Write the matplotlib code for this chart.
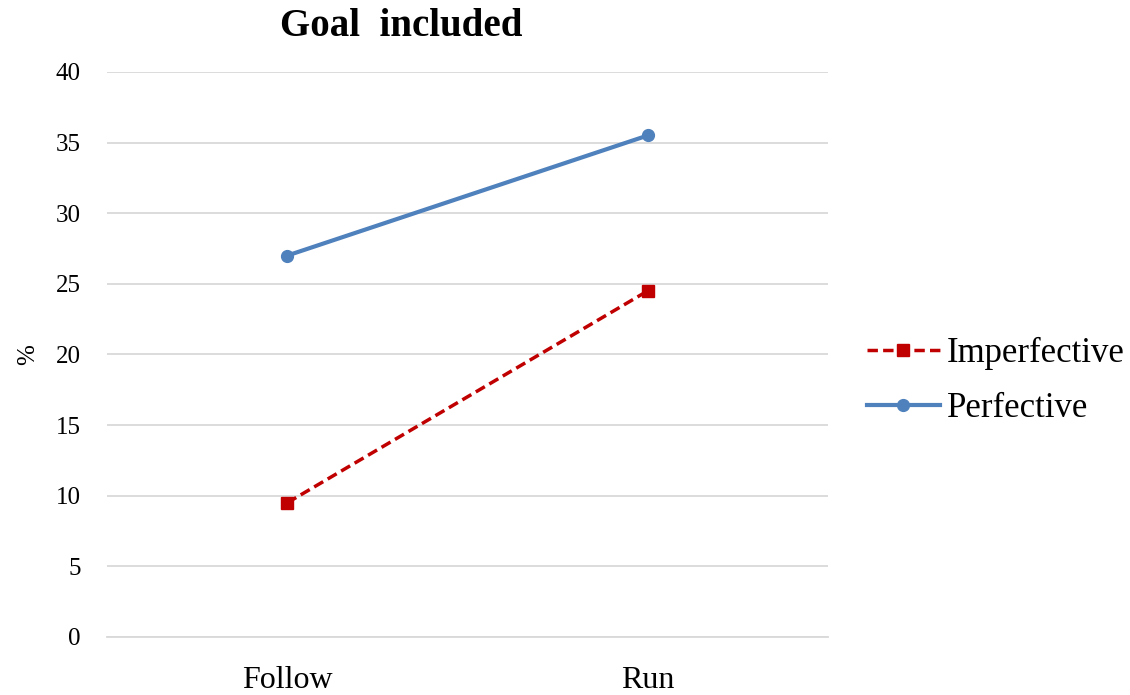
import matplotlib
matplotlib.use("Agg")
import matplotlib.pyplot as plt

# Share of responses (%) per verb, by aspect
verbs = ["Follow", "Run"]
imperfective = [9.5, 24.5]
perfective = [27, 35.5]

plt.rcParams['font.family'] = ['Liberation Serif', 'DejaVu Serif']

fig = plt.figure(figsize=(11.3, 6.95), dpi=100)
ax = fig.add_axes([0.0947, 0.0835, 0.638, 0.813])

x = range(len(verbs))
ax.plot(x, imperfective, color="#c00000", linestyle=(0, (3, 1.5)), linewidth=2.5,
        marker="s", markersize=8.5, label="Imperfective")
ax.plot(x, perfective, color="#4f81bd", linewidth=3,
        marker="o", markersize=8.5, label="Perfective")

ax.set_xlim(-0.5, 1.5)
ax.set_ylim(0, 40)
ax.set_yticks(range(0, 41, 5))
ax.set_xticks(list(x))
ax.set_xticklabels(verbs, fontsize=23)
ax.tick_params(axis="y", labelsize=18, length=0, pad=19)
ax.tick_params(axis="x", length=0, pad=21)
ax.yaxis.grid(True, color="#d9d9d9", linewidth=1.3)
ax.set_axisbelow(True)
for side in ["top", "right", "left"]:
    ax.spines[side].set_visible(False)
ax.spines["bottom"].set_color("#d9d9d9")
ax.spines["bottom"].set_linewidth(1.3)

ax.set_ylabel("%", fontsize=18, labelpad=12)
fig.text(401 / 1130, 1 - 27 / 695, "Goal  included", fontsize=28,
         fontweight="bold", ha="center", va="center")

fig.legend(loc="center left", bbox_to_anchor=(867 / 1130, 1 - 381 / 695),
           frameon=False, fontsize=25, handlelength=2.1, handletextpad=0.2,
           labelspacing=0.65, borderpad=0, borderaxespad=0)

fig.savefig("out.png", dpi=100)
